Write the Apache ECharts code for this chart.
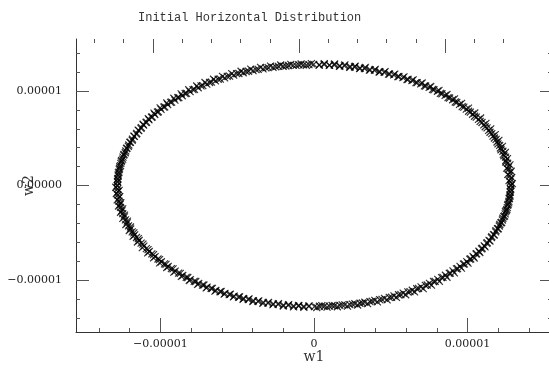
<!DOCTYPE html>
<html>
<head>
<meta charset="utf-8">
<script src="https://cdn.jsdelivr.net/npm/echarts@6/dist/echarts.min.js"></script>
<style>
html,body{margin:0;padding:0;background:#fff;}
#chart{width:549px;height:374px;}
</style>
</head>
<body>
<div id="chart"></div>
<script>
// Values in units of 1e-6 (micro)
const UNIT = 1e-6;
const w1 = [
 12.83,12.78,12.81,12.74,12.76,12.66,12.67,12.61,12.49,12.48,12.33,12.30,12.14,12.09,11.92,11.86,11.66,11.58,11.37,11.27,11.06,10.94,10.71,10.57,10.33,10.18,9.92,9.76,9.48,9.30,
 9.03,8.83,8.54,8.33,8.04,7.81,7.50,7.27,6.95,6.72,6.38,6.13,5.79,5.53,5.19,4.92,4.57,4.29,3.94,3.66,3.29,3.01,2.64,2.36,1.98,1.69,1.32,1.01,0.66,0.35,
 -0.02,-0.33,-0.68,-0.99,-1.35,-1.66,-2.01,-2.32,-2.67,-2.98,-3.32,-3.63,-3.97,-4.26,-4.61,-4.89,-5.23,-5.50,-5.82,-6.10,-6.42,-6.68,-6.98,-7.24,-7.54,-7.78,-8.07,-8.30,-8.58,-8.80,
 -9.06,-9.27,-9.53,-9.72,-9.96,-10.14,-10.37,-10.54,-10.75,-10.90,-11.10,-11.24,-11.41,-11.54,-11.70,-11.82,-11.96,-12.06,-12.18,-12.26,-12.37,-12.44,-12.53,-12.58,-12.65,-12.68,-12.74,-12.75,-12.79,-12.79,
 -12.81,-12.79,-12.77,-12.77,-12.72,-12.70,-12.63,-12.60,-12.51,-12.46,-12.35,-12.28,-12.16,-12.08,-11.94,-11.84,-11.68,-11.56,-11.39,-11.26,-11.08,-10.92,-10.73,-10.56,-10.35,-10.16,-9.94,-9.74,-9.50,-9.29,
 -9.04,-8.82,-8.55,-8.32,-8.05,-7.80,-7.51,-7.26,-6.96,-6.70,-6.39,-6.12,-5.80,-5.52,-5.20,-4.91,-4.58,-4.28,-3.95,-3.65,-3.30,-3.00,-2.65,-2.34,-1.99,-1.68,-1.33,-1.01,-0.67,-0.34,
 0.03,0.35,0.67,1.00,1.34,1.68,2.00,2.33,2.66,2.99,3.31,3.64,3.96,4.27,4.59,4.90,5.21,5.51,5.81,6.11,6.40,6.69,6.97,7.25,7.52,7.79,8.06,8.31,8.56,8.81,
 9.05,9.28,9.51,9.73,9.95,10.15,10.36,10.55,10.74,10.91,11.09,11.25,11.40,11.55,11.69,11.83,11.95,12.07,12.17,12.27,12.36,12.45,12.52,12.59,12.64,12.69,12.73,12.76,12.78,12.80,
 // second pass, slightly different radii
 12.92,12.70,12.88,12.62,12.84,12.55,12.76,12.49,12.60,12.37,12.46,12.18,12.27,11.98,12.04,11.75,11.80,11.46,11.51,11.15,11.20,10.82,10.85,10.46,10.47,10.07,10.06,9.65,9.61,9.20,
 9.15,8.73,8.66,8.23,8.14,7.72,7.60,7.19,7.04,6.64,6.46,6.06,5.86,5.46,5.26,4.86,4.63,4.24,3.99,3.61,3.34,2.97,2.68,2.32,2.01,1.66,1.34,1.00,0.67,0.33,
 -0.17,-0.50,-0.84,-1.17,-1.51,-1.83,-2.17,-2.49,-2.83,-3.14,-3.48,-3.78,-4.12,-4.42,-4.75,-5.04,-5.36,-5.65,-5.96,-6.24,-6.54,-6.80,-7.10,-7.36,-7.64,-7.88,-8.16,-8.39,-8.65,-8.87,
 -9.13,-9.34,-9.59,-9.78,-10.02,-10.20,-10.42,-10.58,-10.79,-10.94,-11.13,-11.27,-11.45,-11.57,-11.73,-11.84,-11.99,-12.09,-12.21,-12.29,-12.40,-12.46,-12.55,-12.60,-12.67,-12.70,-12.75,-12.77,-12.80,-12.80,
 -12.91,-12.69,-12.87,-12.65,-12.82,-12.58,-12.73,-12.46,-12.60,-12.34,-12.45,-12.15,-12.25,-11.95,-12.03,-11.73,-11.78,-11.44,-11.50,-11.14,-11.18,-10.81,-10.83,-10.45,-10.45,-10.06,-10.05,-9.64,-9.59,-9.18,
 -9.13,-8.71,-8.64,-8.22,-8.12,-7.70,-7.58,-7.17,-7.02,-6.62,-6.45,-6.05,-5.85,-5.45,-5.25,-4.85,-4.62,-4.23,-3.98,-3.60,-3.33,-2.96,-2.67,-2.31,-2.00,-1.65,-1.33,-0.99,-0.66,-0.32,
 0.18,0.51,0.85,1.18,1.52,1.84,2.18,2.50,2.84,3.15,3.49,3.79,4.13,4.43,4.76,5.05,5.37,5.66,5.97,6.25,6.55,6.81,7.11,7.37,7.65,7.89,8.17,8.40,8.66,8.88,
 9.14,9.35,9.60,9.79,10.03,10.21,10.43,10.59,10.80,10.95,11.14,11.28,11.46,11.58,11.74,11.85,12.00,12.10,12.22,12.30,12.41,12.47,12.56,12.61,12.68,12.71,12.76,12.78,12.81,12.81
];
const w2 = [
 0.05,0.36,0.66,1.02,1.33,1.69,1.98,2.35,2.64,3.01,3.30,3.62,3.97,4.25,4.60,4.88,5.23,5.49,5.83,6.09,6.42,6.67,6.99,7.23,7.54,7.77,8.08,8.29,8.58,8.79,
 9.07,9.26,9.53,9.71,9.97,10.13,10.38,10.53,10.76,10.89,11.11,11.23,11.42,11.53,11.71,11.80,11.97,12.04,12.19,12.24,12.38,12.42,12.54,12.56,12.66,12.65,12.75,12.74,12.80,12.77,
 12.82,12.79,12.76,12.78,12.71,12.70,12.62,12.60,12.50,12.47,12.34,12.29,12.15,12.09,11.93,11.85,11.67,11.57,11.38,11.26,11.07,10.93,10.72,10.56,10.34,10.17,9.93,9.74,9.50,9.29,
 9.04,8.82,8.55,8.32,8.05,7.80,7.51,7.26,6.96,6.70,6.39,6.12,5.80,5.52,5.20,4.91,4.58,4.28,3.95,3.65,3.30,3.00,2.65,2.34,1.99,1.68,1.33,1.01,0.67,0.34,
 -0.03,-0.35,-0.66,-1.01,-1.34,-1.67,-2.01,-2.32,-2.67,-2.98,-3.32,-3.63,-3.96,-4.27,-4.60,-4.90,-5.22,-5.50,-5.82,-6.10,-6.41,-6.68,-6.98,-7.24,-7.53,-7.78,-8.07,-8.30,-8.57,-8.80,
 -9.06,-9.27,-9.52,-9.72,-9.96,-10.14,-10.37,-10.54,-10.75,-10.90,-11.10,-11.24,-11.41,-11.54,-11.70,-11.82,-11.96,-12.06,-12.18,-12.26,-12.37,-12.44,-12.53,-12.58,-12.65,-12.68,-12.74,-12.75,-12.79,-12.79,
 -12.81,-12.78,-12.78,-12.76,-12.72,-12.69,-12.63,-12.60,-12.51,-12.46,-12.35,-12.28,-12.16,-12.08,-11.94,-11.84,-11.68,-11.56,-11.39,-11.26,-11.08,-10.92,-10.73,-10.56,-10.35,-10.16,-9.94,-9.74,-9.50,-9.29,
 -9.04,-8.82,-8.55,-8.32,-8.05,-7.80,-7.51,-7.26,-6.96,-6.70,-6.39,-6.12,-5.80,-5.52,-5.20,-4.91,-4.58,-4.28,-3.95,-3.65,-3.30,-3.00,-2.65,-2.34,-1.99,-1.68,-1.33,-1.01,-0.67,-0.34,
 // second pass
 0.20,0.52,0.84,1.18,1.51,1.84,2.18,2.49,2.84,3.15,3.49,3.78,4.14,4.40,4.77,5.03,5.38,5.63,5.99,6.22,6.58,6.79,7.14,7.33,7.67,7.86,8.19,8.35,8.69,8.83,
 9.17,9.30,9.63,9.74,10.06,10.17,10.47,10.54,10.84,10.89,11.18,11.22,11.50,11.52,11.79,11.78,12.05,12.01,12.28,12.21,12.48,12.38,12.62,12.51,12.76,12.62,12.85,12.71,12.89,12.74,
 12.90,12.72,12.86,12.71,12.82,12.64,12.75,12.56,12.63,12.44,12.49,12.26,12.31,12.06,12.09,11.83,11.83,11.55,11.55,11.24,11.24,10.90,10.90,10.54,10.53,10.15,10.13,9.73,9.70,9.28,
 9.23,8.80,8.73,8.30,8.21,7.77,7.66,7.22,7.08,6.65,6.48,6.05,5.86,5.43,5.23,4.79,4.57,4.14,3.90,3.47,3.22,2.79,2.53,2.10,1.83,1.41,1.13,0.71,0.43,0.02,
 -0.19,-0.51,-0.85,-1.17,-1.52,-1.83,-2.17,-2.48,-2.83,-3.14,-3.48,-3.77,-4.13,-4.39,-4.76,-5.02,-5.37,-5.62,-5.98,-6.21,-6.57,-6.78,-7.13,-7.32,-7.66,-7.85,-8.18,-8.34,-8.68,-8.82,
 -9.16,-9.29,-9.62,-9.73,-10.05,-10.16,-10.46,-10.53,-10.83,-10.88,-11.17,-11.21,-11.49,-11.51,-11.78,-11.77,-12.04,-12.00,-12.27,-12.20,-12.47,-12.37,-12.61,-12.50,-12.75,-12.61,-12.84,-12.70,-12.88,-12.73,
 -12.91,-12.71,-12.87,-12.70,-12.83,-12.63,-12.76,-12.55,-12.64,-12.43,-12.50,-12.25,-12.32,-12.05,-12.10,-11.82,-11.84,-11.54,-11.56,-11.23,-11.25,-10.89,-10.91,-10.53,-10.54,-10.14,-10.14,-9.72,-9.71,-9.27,
 -9.24,-8.79,-8.74,-8.29,-8.22,-7.76,-7.67,-7.21,-7.09,-6.64,-6.49,-6.04,-5.87,-5.42,-5.24,-4.78,-4.58,-4.13,-3.91,-3.46,-3.23,-2.78,-2.54,-2.09,-1.84,-1.40,-1.14,-0.70,-0.44,-0.03
];

const X_RANGE = [-15.5, 15.5];
const Y_RANGE = [-15.5, 15.5];
const TOP_RANGE = [-15.27, 17.33];
const X_TICKS = [-10, 0, 10];
const X_TICK_LABELS = ['\u22120.00001', '0', '0.00001'];
const Y_TICKS = [-10, 0, 10];
const Y_TICK_LABELS = ['\u22120.00001', '0.00000', '0.00001'];
const MINOR_TICKS = [-14, -12, -8, -6, -4, -2, 2, 4, 6, 8, 12, 14];
const TITLE = 'Initial Horizontal Distribution';
const X_NAME = 'w1';
const Y_NAME = 'w2';

const sc = a => a.map(v => v * UNIT);
const data = w1.map((x, i) => [x * UNIT, w2[i] * UNIT]);
function labeler(ticks, labels) {
  return function (v) {
    for (let i = 0; i < ticks.length; i++) {
      if (Math.abs(ticks[i] * UNIT - v) < 1e-12) return labels[i];
    }
    return '';
  };
}

const LBL = { fontFamily: 'DejaVu Serif', fontSize: 11, color: '#222' };
const TICKC = '#555';
const gridBox = { left: 76, top: 39, width: 476, height: 293, containLabel: false, outerBoundsMode: 'none' };

function minorAxis(grid, pos, range, ticks, len) {
  return { type: 'value', gridIndex: grid, position: pos, min: range[0] * UNIT, max: range[1] * UNIT,
    axisLine: { show: false, onZero: false },
    axisTick: { show: true, inside: true, length: len, customValues: sc(ticks), lineStyle: { color: TICKC } },
    axisLabel: { show: false }, splitLine: { show: false } };
}

const chart = echarts.init(document.getElementById('chart'), null, { renderer: 'canvas' });
chart.setOption({
  animation: false,
  backgroundColor: '#fff',
  title: {
    text: TITLE, left: 133, top: 7,
    textStyle: { fontFamily: 'Liberation Mono', fontSize: 12, fontWeight: 'normal', color: '#333' }
  },
  grid: [Object.assign({}, gridBox), Object.assign({}, gridBox)],
  xAxis: [
    { type: 'value', gridIndex: 0, position: 'bottom', min: X_RANGE[0] * UNIT, max: X_RANGE[1] * UNIT,
      name: X_NAME, nameLocation: 'middle', nameGap: 18, nameMoveOverlap: false,
      nameTextStyle: { fontFamily: 'DejaVu Serif', fontSize: 14, color: '#333' },
      axisLine: { show: true, onZero: false, lineStyle: { color: '#333', width: 1 } },
      axisTick: { show: true, inside: true, length: 14, customValues: sc(X_TICKS), lineStyle: { color: TICKC } },
      axisLabel: Object.assign({ show: true, margin: 7, customValues: sc(X_TICKS), formatter: labeler(X_TICKS, X_TICK_LABELS) }, LBL),
      splitLine: { show: false } },
    minorAxis(0, 'top', TOP_RANGE, X_TICKS, 14),
    minorAxis(1, 'bottom', X_RANGE, MINOR_TICKS, 4),
    minorAxis(1, 'top', TOP_RANGE, MINOR_TICKS, 4)
  ],
  yAxis: [
    { type: 'value', gridIndex: 0, position: 'left', min: Y_RANGE[0] * UNIT, max: Y_RANGE[1] * UNIT,
      name: Y_NAME, nameLocation: 'middle', nameGap: 40, nameRotate: 90, nameMoveOverlap: false,
      nameTextStyle: { fontFamily: 'DejaVu Serif', fontSize: 14, color: '#333' },
      axisLine: { show: true, onZero: false, lineStyle: { color: '#333', width: 1 } },
      axisTick: { show: true, inside: true, length: 13, customValues: sc(Y_TICKS), lineStyle: { color: TICKC } },
      axisLabel: Object.assign({ show: true, margin: 14, customValues: sc(Y_TICKS), formatter: labeler(Y_TICKS, Y_TICK_LABELS) }, LBL),
      splitLine: { show: false } },
    minorAxis(0, 'right', Y_RANGE, Y_TICKS, 12),
    minorAxis(1, 'left', Y_RANGE, MINOR_TICKS, 4),
    minorAxis(1, 'right', Y_RANGE, MINOR_TICKS, 4)
  ],
  series: [{
    type: 'scatter', xAxisIndex: 0, yAxisIndex: 0, data: data,
    symbol: 'path://M0,0L10,10M10,0L0,10', symbolSize: 7,
    itemStyle: { color: 'rgba(0,0,0,0)', borderColor: '#000', borderWidth: 1.2 },
    silent: true
  }]
});
</script>
</body>
</html>
